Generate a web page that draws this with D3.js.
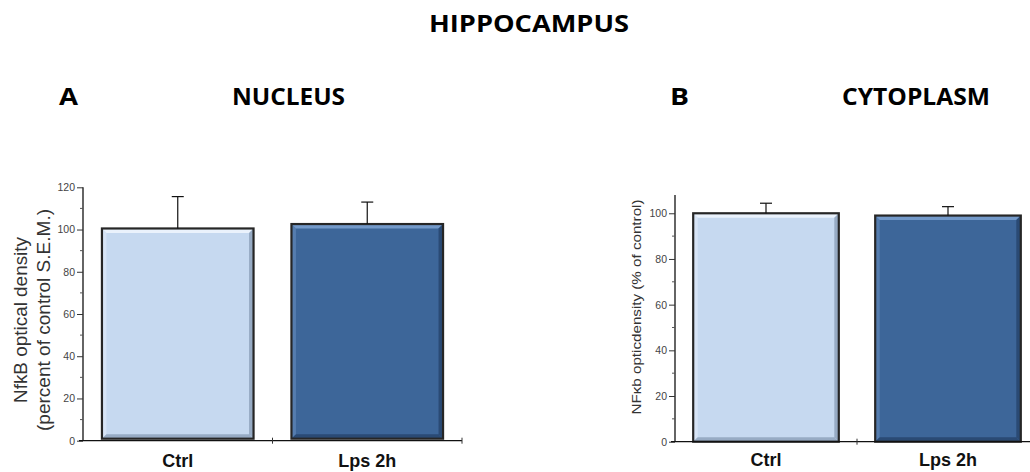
<!DOCTYPE html>
<html><head><meta charset="utf-8">
<script src="https://cdn.jsdelivr.net/npm/d3@7"></script>
<style>body{margin:0;background:#fff}svg{display:block}</style>
</head><body><svg id="c" width="1030" height="472"></svg>
<script>
const categories = ["Ctrl", "Lps 2h"];
const nucleusValues = [100.5, 102.6];
const nucleusErrors = [15.1, 10.4];
const cytoplasmValues = [100, 99];
const cytoplasmErrors = [4.4, 3.9];
const nucleusTicks = [0, 20, 40, 60, 80, 100, 120];
const cytoplasmTicks = [0, 20, 40, 60, 80, 100];
const barFills = ["#c6d9f0", "#3d6699"];
const bevelLight = ["#eaf2fc", "#7399c9"];
const bevelDark = ["#97abc4", "#2a4a74"];

const svg = d3.select("#c");
const titleFont = "'Open Sans', sans-serif";

function title(txt, x, y, w) {
  svg.append("text").attr("x", x).attr("y", y).attr("font-family", titleFont)
    .attr("font-weight", 700).attr("font-size", 23.5).attr("fill", "#000")
    .attr("textLength", w).attr("lengthAdjust", "spacingAndGlyphs").text(txt);
}
title("HIPPOCAMPUS", 429, 31.5, 200);
title("A", 59, 104.5, 19);
title("NUCLEUS", 232, 104.5, 113);
title("B", 670, 104.5, 19);
title("CYTOPLASM", 842, 104.5, 148);

function panel(cfg) {
  const g = svg.append("g");
  const y = d3.scaleLinear().domain(cfg.yDomain).range(cfg.yRange);
  const x = d3.scaleBand().domain(categories).range(cfg.xRange).paddingInner(0.2).paddingOuter(0.1);
  const x0 = cfg.xRange[0];
  const bw = x.bandwidth();

  categories.forEach((c, i) => {
    const v = cfg.values[i];
    const bx = x(c), by = y(v), bb = y(0) - cfg.barLift, bh = bb - by;
    const bev = 4.5;
    const bg = g.append("g");
    bg.append("rect").attr("x", bx).attr("y", by).attr("width", bw).attr("height", bh)
      .attr("fill", barFills[i]);
    bg.append("polygon").attr("points", [[bx,by],[bx+bw,by],[bx+bw-bev,by+bev],[bx+bev,by+bev]].join(" "))
      .attr("fill", bevelLight[i]);
    bg.append("polygon").attr("points", [[bx,by],[bx+bev,by+bev],[bx+bev,bb-bev],[bx,bb]].join(" "))
      .attr("fill", bevelLight[i]).attr("opacity", 0.45);
    bg.append("polygon").attr("points", [[bx+bw,by],[bx+bw,bb],[bx+bw-bev,bb-bev],[bx+bw-bev,by+bev]].join(" "))
      .attr("fill", bevelDark[i]);
    bg.append("polygon").attr("points", [[bx,bb],[bx+bw,bb],[bx+bw-bev,bb-bev],[bx+bev,bb-bev]].join(" "))
      .attr("fill", bevelDark[i]);
    bg.append("rect").attr("x", bx).attr("y", by).attr("width", bw).attr("height", bh)
      .attr("fill", "none").attr("stroke", "#262626").attr("stroke-width", 2.2);
    const cx = x(c) + bw / 2;
    const ey = y(v + cfg.errors[i]);
    g.append("line").attr("x1", cx).attr("x2", cx).attr("y1", by).attr("y2", ey)
      .attr("stroke", "#111").attr("stroke-width", 1.2);
    g.append("line").attr("x1", cx - 6).attr("x2", cx + 6).attr("y1", ey).attr("y2", ey)
      .attr("stroke", "#111").attr("stroke-width", 1.2);
    g.append("text").attr("x", cx).attr("y", cfg.labelY).attr("text-anchor", "middle")
      .attr("font-family", "'Liberation Sans', Arial, sans-serif").attr("font-weight", 700)
      .attr("font-size", 18).attr("fill", "#111").text(c);
  });

  const yAxis = d3.axisLeft(y).tickValues(cfg.ticks).tickSize(cfg.tickLen).tickPadding(2)
    .tickFormat(d3.format("d"));
  const ya = g.append("g").attr("transform", `translate(${x0},0)`).call(yAxis);
  ya.select(".domain").attr("stroke", "#111").attr("stroke-width", 1.3)
    .attr("d", `M0,${y(0)}V${cfg.yRange[1]}`);
  ya.selectAll(".tick line").attr("stroke", "#333");
  ya.selectAll(".tick text").attr("font-family", "'Liberation Sans', Arial, sans-serif")
    .attr("font-size", cfg.tickFont).attr("fill", "#444");
  const minor = d3.range(10, cfg.yDomain[1], 20);
  g.append("g").selectAll("line").data(minor).join("line")
    .attr("x1", x0 - 3).attr("x2", x0).attr("y1", d => y(d)).attr("y2", d => y(d))
    .attr("stroke", "#555").attr("stroke-width", 1);

  g.append("line").attr("x1", x0 - 4).attr("x2", cfg.xRange[1]).attr("y1", y(0)).attr("y2", y(0))
    .attr("stroke", "#111").attr("stroke-width", 1.3);
  const bounds = d3.range(1, categories.length + 1).map(i => x0 + i * (cfg.xRange[1] - x0) / categories.length);
  g.append("g").selectAll("line").data(bounds).join("line")
    .attr("x1", d => d).attr("x2", d => d).attr("y1", y(0) - 3).attr("y2", y(0) + 3)
    .attr("stroke", "#333").attr("stroke-width", 1);

  const lab = g.append("text").attr("transform", `translate(${cfg.labelX},${cfg.labelCY}) rotate(-90)`)
    .attr("text-anchor", "middle").attr("font-family", "'Liberation Sans', Arial, sans-serif")
    .attr("font-size", cfg.yLabelFont).attr("fill", "#333");
  cfg.yLabel.forEach((t, i) => {
    const ts = lab.append("tspan").attr("x", 0).attr("dy", i === 0 ? 0 : cfg.yLabelLine).text(t);
    if (cfg.yLabelLen && cfg.yLabelLen[i]) ts.attr("textLength", cfg.yLabelLen[i]).attr("lengthAdjust", "spacingAndGlyphs");
  });
}

panel({
  values: nucleusValues, errors: nucleusErrors, ticks: nucleusTicks,
  yDomain: [0, 120], yRange: [440.7, 187.3], xRange: [83, 462],
  barLift: 2, tickLen: 6, tickFont: 10.5, labelY: 467,
  labelX: 27, labelCY: 320, yLabelFont: 18, yLabelLine: 23,
  yLabel: ["NfkB optical density", "(percent of control S.E.M.)"], yLabelLen: [166, 222]
});
panel({
  values: cytoplasmValues, errors: cytoplasmErrors, ticks: cytoplasmTicks,
  yDomain: [0, 108], yRange: [441.7, 195], xRange: [675, 1039],
  barLift: 0, tickLen: 6, tickFont: 10.5, labelY: 466,
  labelX: 641, labelCY: 307, yLabelFont: 12, yLabelLine: 0,
  yLabel: ["NFκb opticdensity (% of control)"], yLabelLen: [215]
});
</script></body></html>
